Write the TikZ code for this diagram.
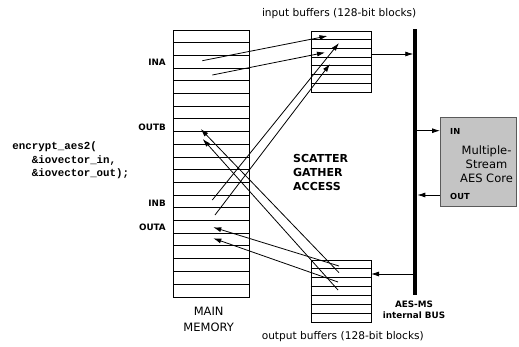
\documentclass[tikz,border=0pt]{standalone}
\usepackage{fontspec}
\setmainfont{DejaVu Sans}
\newfontfamily\codefont{Liberation Mono}
\usetikzlibrary{arrows.meta,calc}
\definecolor{coregray}{RGB}{196,196,196}
\definecolor{coreedge}{RGB}{90,90,90}
\begin{document}
\begin{tikzpicture}[x=1pt,y=-1pt,
  arr/.style={line width=0.8pt,-{Latex[length=8pt,width=5pt]}},
  rowline/.style={line width=1pt},
  boxstyle/.style={draw,line width=1pt,inner sep=0pt,anchor=north west},
  lbl/.style={font=\bfseries\fontsize{8.8}{10}\selectfont,anchor=east,inner sep=0pt},
  small/.style={font=\bfseries\fontsize{8.3}{10}\selectfont,anchor=west,inner sep=0pt},
  title/.style={font=\fontsize{10.6}{12}\selectfont,inner sep=0pt}]
\useasboundingbox (0,0) rectangle (519,346);
% main memory
\node[boxstyle,minimum width=76pt,minimum height=266.7pt] (mem) at (173.3,30) {};
\foreach \i in {1,...,20} \draw[rowline] (173.3,{30+12.7*\i}) -- (249.3,{30+12.7*\i});
% input buffers
\node[boxstyle,minimum width=60.3pt,minimum height=61.6pt] (inbuf) at (310.7,30.7) {};
\foreach \i in {1,...,6} \draw[rowline] (310.7,{30.7+8.8*\i}) -- (371,{30.7+8.8*\i});
% output buffers
\node[boxstyle,minimum width=60.3pt,minimum height=62pt] (outbuf) at (310.7,260) {};
\foreach \i in {1,...,6} \draw[rowline] (310.7,{260+8.857*\i}) -- (371,{260+8.857*\i});
% labels
\node[lbl] (ina) at (166,62.5) {INA};
\node[lbl] (outb) at (166,127) {OUTB};
\node[lbl] (inb) at (166,203) {INB};
\node[lbl] (outa) at (166,227) {OUTA};
\node[anchor=west,inner sep=0pt,align=left,font=\codefont\bfseries\fontsize{10.8}{13.5}\selectfont] (code) at (12.3,160.7)
  {encrypt\_aes2(\\\phantom{xxx}\&iovector\_in,\\\phantom{xxx}\&iovector\_out);};
\node[anchor=west,inner sep=0pt,align=left,font=\bfseries\fontsize{11}{14}\selectfont] (sga) at (293,172) {SCATTER\\GATHER\\ACCESS};
\node[inner sep=0pt,align=center,font=\fontsize{11.5}{15.5}\selectfont] (mainmem) at (208.7,319.5) {MAIN\\MEMORY};
\node[title] (intitle) at (339.2,14) {input buffers (128-bit blocks)};
\node[title] (outtitle) at (342.8,336.3) {output buffers (128-bit blocks)};
% core
\node[draw=coreedge,fill=coregray,line width=1pt,inner sep=0pt,anchor=north west,minimum width=76pt,minimum height=89pt] (core) at (440,117) {};
\node[inner sep=0pt,align=center,font=\fontsize{11.5}{13.8}\selectfont] (coretext) at (486.5,164) {Multiple-\\Stream\\AES Core};
\node[small] (inlbl) at (450,131) {IN};
\node[small] (outlbl) at (450,196) {OUT};
% bus
\coordinate (bt) at (415.3,29.3);
\coordinate (bb) at (415.3,295);
\draw[line width=4pt] (bt) -- (bb);
\node[inner sep=0pt,align=center,font=\bfseries\fontsize{8.8}{11}\selectfont] (buslbl) at (414,309.5) {AES-MS\\internal BUS};
% bus connections
\coordinate (ib) at (371,54); \coordinate (bi) at (413.3,54);
\draw[arr] (ib) -- (bi);
\coordinate (bo) at (413.3,274); \coordinate (ob) at (371,274);
\draw[arr] (bo) -- (ob);
\coordinate (bcin) at (417.3,130.7); \coordinate (cin) at (440,130.7);
\draw[arr] (bcin) -- (cin);
\coordinate (cout) at (440,195); \coordinate (bcout) at (417.3,195);
\draw[arr] (cout) -- (bcout);
% scatter / gather arrows
\coordinate (a1s) at (202.3,60.7); \coordinate (a1e) at (327.5,36);
\coordinate (a2s) at (212.3,75);   \coordinate (a2e) at (325,52.5);
\coordinate (b1s) at (212.3,200);  \coordinate (b1e) at (339,43);
\coordinate (b2s) at (215,215);    \coordinate (b2e) at (330,64);
\coordinate (p1s) at (339,272.7);  \coordinate (p1e) at (200.7,129);
\coordinate (p2s) at (338,290);    \coordinate (p2e) at (202.7,139);
\coordinate (q1s) at (339,266);    \coordinate (q1e) at (213.3,227.3);
\coordinate (q2s) at (338,282);    \coordinate (q2e) at (213.3,238.3);
\foreach \s/\e in {a1s/a1e,a2s/a2e,b1s/b1e,b2s/b2e,p1s/p1e,p2s/p2e,q1s/q1e,q2s/q2e}
  \draw[arr] (\s) -- (\e);
\end{tikzpicture}
\end{document}
